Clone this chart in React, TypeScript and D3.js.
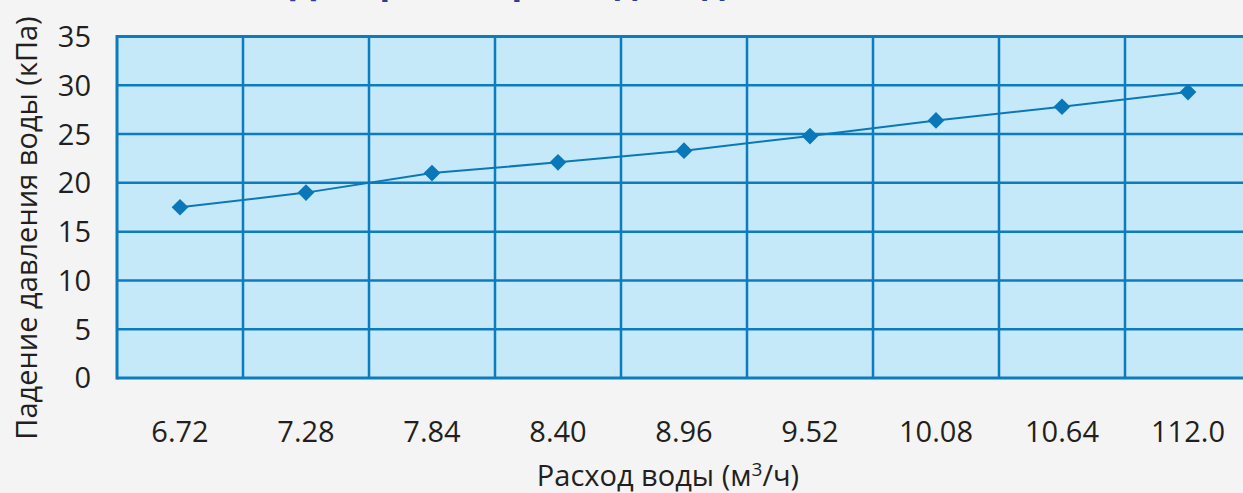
import React from "react";
import * as d3 from "d3";

const categories = ["6.72", "7.28", "7.84", "8.40", "8.96", "9.52", "10.08", "10.64", "112.0"];
const pressureDrop = [17.5, 19.0, 21.0, 22.1, 23.3, 24.8, 26.4, 27.8, 29.3];
const yTicks = [0, 5, 10, 15, 20, 25, 30, 35];
const titleText = "Диаграмма расхода и давления";
const yTitle = "Падение давления воды (кПа)";

const W = 1243;
const H = 493;
const left = 117;
const top = 36.5;
const bottom = 378;
const bandW = 126;

export default function App() {
  const x = d3
    .scaleBand<string>()
    .domain(categories)
    .range([left, left + bandW * categories.length])
    .padding(0);
  const y = d3.scaleLinear().domain([0, 35]).range([bottom, top]);
  const cx = (c: string) => (x(c) as number) + x.bandwidth() / 2;
  const line = d3
    .line<number>()
    .x((_, i) => cx(categories[i]))
    .y((d) => y(d));
  const diamond = d3.symbol().type(d3.symbolSquare).size(140)();
  const grid = "#0b7dbf";
  const font = "'Open Sans', sans-serif";

  return (
    <svg
      width={W}
      height={H}
      style={{ position: "absolute", left: 0, top: 0, background: "#f4f4f4" }}
    >
      <rect x={0} y={0} width={W} height={H} fill="#f4f4f4" />
      <text
        x={290}
        y={-5}
        fontFamily={font}
        fontWeight={700}
        fontSize={31}
        fill="#2b3f97"
        textLength={590}
        lengthAdjust="spacingAndGlyphs"
      >
        {titleText}
      </text>
      <rect x={left} y={top} width={W - left + 20} height={bottom - top} fill="#c6e9f9" />
      {yTicks.map((t) => (
        <line
          key={"h" + t}
          x1={left}
          x2={W + 10}
          y1={y(t)}
          y2={y(t)}
          stroke={grid}
          strokeWidth={t === 0 || t === 35 ? 3 : 2.5}
        />
      ))}
      {categories.map((c, i) =>
        i === 0 ? null : (
          <line
            key={"v" + c}
            x1={x(c) as number}
            x2={x(c) as number}
            y1={top}
            y2={bottom}
            stroke={grid}
            strokeWidth={2.5}
          />
        )
      )}
      <line x1={left} x2={left} y1={top - 1.5} y2={bottom + 1.5} stroke={grid} strokeWidth={3} />
      <path d={line(pressureDrop) || ""} fill="none" stroke="#0a78b8" strokeWidth={2} />
      {pressureDrop.map((v, i) => (
        <path
          key={"m" + i}
          d={diamond || ""}
          transform={`translate(${cx(categories[i])},${y(v)}) rotate(45)`}
          fill="#0a78b8"
        />
      ))}
      {yTicks.map((t) => (
        <text
          key={"yl" + t}
          x={91}
          y={y(t)}
          dy="0.36em"
          textAnchor="end"
          fontFamily={font}
          fontSize={29}
          fill="#231f20"
        >
          {t}
        </text>
      ))}
      {categories.map((c) => (
        <text
          key={"xl" + c}
          x={cx(c)}
          y={442}
          textAnchor="middle"
          fontFamily={font}
          fontSize={29}
          fill="#231f20"
        >
          {c}
        </text>
      ))}
      <text
        transform={`translate(37,228) rotate(-90)`}
        textAnchor="middle"
        fontFamily={font}
        fontSize={29}
        fill="#231f20"
      >
        {yTitle}
      </text>
      <text
        x={668}
        y={486}
        textAnchor="middle"
        fontFamily={font}
        fontSize={29}
        fill="#231f20"
      >
        Расход воды (м<tspan dy={-10} fontSize={19}>3</tspan>
        <tspan dy={10}>/ч)</tspan>
      </text>
    </svg>
  );
}
